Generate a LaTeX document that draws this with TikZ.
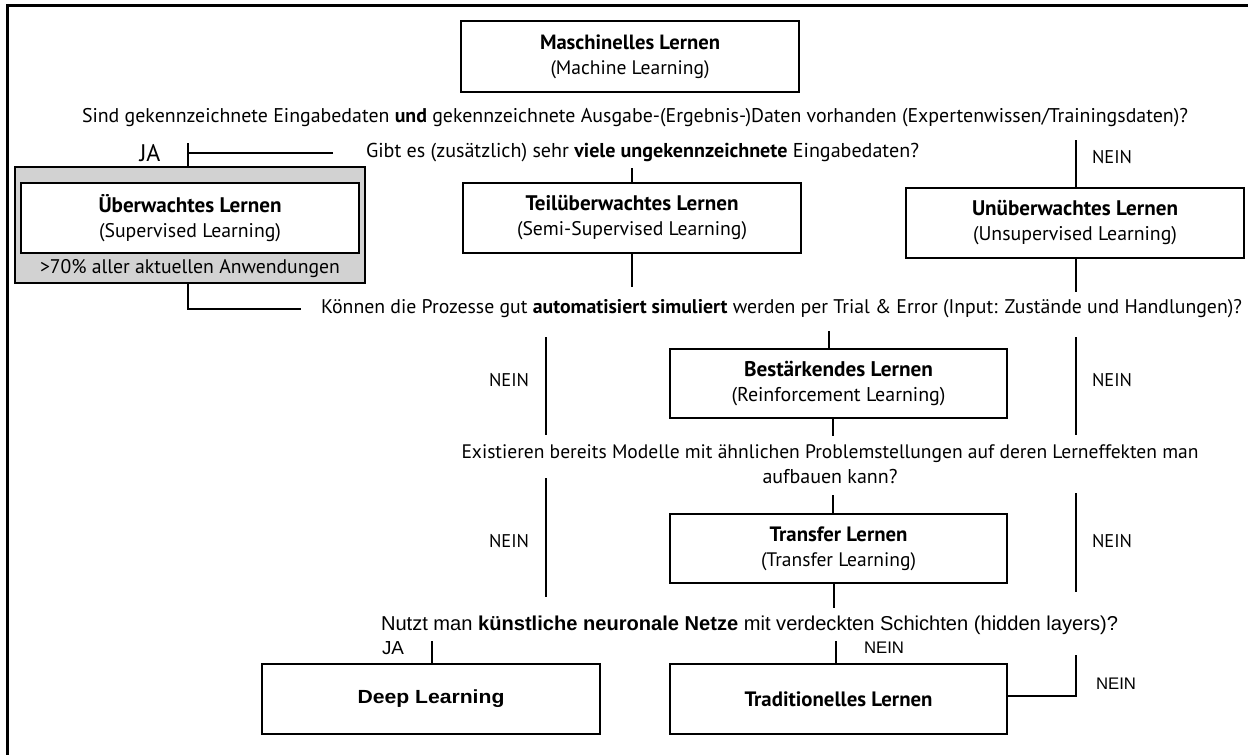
\documentclass[tikz,border=0pt]{standalone}
\usepackage{fontspec}
\usepackage{graphicx}
\setmainfont{PT Sans}
\newfontfamily\helv{Liberation Sans}
\newlength\fitlen
\newcommand\fitto[2]{{\fontsize{10}{12}\selectfont\settowidth\fitlen{#2}\pgfmathsetmacro\fitfs{10*#1/\fitlen}\fontsize{\fitfs}{\fitfs}\selectfont #2}}
\newcommand\fitx[2]{\resizebox{#1pt}{\height}{#2}}
\begin{document}
\begin{tikzpicture}[x=1pt,y=-1pt,
  every node/.style={inner sep=0pt, font=\fontsize{19}{25}\selectfont},
  lbox/.style={draw, line width=2.6pt, fill=white, align=center, minimum width=338pt, minimum height=70pt},
  ln/.style={line width=2.6pt}
]
\useasboundingbox (0,0) rectangle (1248,755);
% frame
\draw[line width=3pt] (7,755) -- (7,5) -- (1248,5);

% boxes
\node[lbox, minimum height=71pt] (ml) at (630,56.5) {\fitto{180}{\textbf{Maschinelles Lernen}}\\\fitto{159}{(Machine Learning)}};
\node[draw, line width=2.6pt, fill=gray!35, minimum width=350pt, minimum height=116pt] (grey) at (190,225) {};
\node[lbox] (sup) at (190,218) {\fitto{183}{\textbf{Überwachtes Lernen}}\\\fitto{182}{(Supervised Learning)}};
\node (pct) at (190,268.5) {\fitto{300}{>70\% aller aktuellen Anwendungen}};
\node[lbox] (semi) at (632,218) {\fitto{213}{\textbf{Teilüberwachtes Lernen}}\\\fitto{230}{(Semi-Supervised Learning)}};
\node[lbox] (unsup) at (1075,223) {\fitto{206}{\textbf{Unüberwachtes Lernen}}\\\fitto{204}{(Unsupervised Learning)}};
\node[lbox, minimum width=337pt, minimum height=69pt] (rl) at (838.5,383.5) {\fitto{189}{\textbf{Bestärkendes Lernen}}\\\fitto{214}{(Reinforcement Learning)}};
\node[lbox, minimum width=337pt, minimum height=69pt] (tl) at (838.5,548.5) {\fitto{138}{\textbf{Transfer Lernen}}\\\fitto{155}{(Transfer Learning)}};
\node[lbox] (dl) at (431,699) {\fitx{147}{\helv\bfseries\fontsize{19}{25}\selectfont Deep Learning}};
\node[lbox, minimum width=337pt] (trad) at (838.5,699) {\fitto{188}{\textbf{Traditionelles Lernen}}};

% questions
\node (q1) at (635,118) {\fitto{1106}{Sind gekennzeichnete Eingabedaten \textbf{und} gekennzeichnete Ausgabe-(Ergebnis-)Daten vorhanden (Expertenwissen/Trainingsdaten)?}};
\node (q2) at (642.5,153) {\fitto{553}{Gibt es (zusätzlich) sehr \textbf{viele ungekennzeichnete} Eingabedaten?}};
\node (q3) at (781.5,309) {\fitto{921}{Können die Prozesse gut \textbf{automatisiert simuliert} werden per Trial \& Error (Input: Zustände und Handlungen)?}};
\node[align=center] (q4) at (830,464) {\fitto{737}{Existieren bereits Modelle mit ähnlichen Problemstellungen auf deren Lerneffekten man}\\\fitto{135}{aufbauen kann?}};
\node[font=\helv] (q5) at (749.5,625) {\fitto{737}{Nutzt man \textbf{künstliche neuronale Netze} mit verdeckten Schichten (hidden layers)?}};

% labels
\node (ja1) at (150,153) {\fitto{21}{JA}};
\node (n1) at (1112,157) {\fitto{40}{NEIN}};
\node (n2) at (509,380) {\fitto{40}{NEIN}};
\node (n3) at (1112,380) {\fitto{40}{NEIN}};
\node (n4) at (509,541) {\fitto{40}{NEIN}};
\node (n5) at (1112,541) {\fitto{40}{NEIN}};
\node[font=\helv] (ja2) at (393,648) {\fitto{22}{JA}};
\node[font=\helv] (n6) at (884,648) {\fitto{40}{NEIN}};
\node[font=\helv] (n7) at (1116,684) {\fitto{40}{NEIN}};

% connector free ends
\coordinate (jaR) at (333,153);
\coordinate (jaTop) at (188,143);
\coordinate (semiTop) at (632,168);
\coordinate (unTop) at (1076,140);
\coordinate (supEnd) at (301,309);
\coordinate (semiBot) at (632,287);
\coordinate (unBot) at (1076,292);
\coordinate (lA1) at (546,337); \coordinate (lA2) at (546,435);
\coordinate (lB1) at (546,478); \coordinate (lB2) at (546,597);
\coordinate (rA1) at (1076,337); \coordinate (rA2) at (1076,435);
\coordinate (rB1) at (1076,493); \coordinate (rB2) at (1076,592);
\coordinate (rlTop) at (829,331);
\coordinate (rlBot) at (833,436);
\coordinate (tlTop) at (833,495);
\coordinate (tlBot) at (834,608);
\coordinate (dlTop) at (432,641);
\coordinate (trTop) at (836,641);
\coordinate (rC1) at (1076,655);

% connectors
\draw[ln] (jaR) -- (jaR -| jaTop);
\draw[ln] (jaTop) -- (jaTop |- grey.north);
\draw[ln] (semiTop) -- (semi.north);
\draw[ln] (unTop) -- (unTop |- unsup.north);
\draw[ln] (grey.south -| jaTop) |- (supEnd);
\draw[ln] (semi.south) -- (semiBot);
\draw[ln] (unsup.south -| unBot) -- (unBot);
\draw[ln] (lA1) -- (lA2);
\draw[ln] (lB1) -- (lB2);
\draw[ln] (rA1) -- (rA2);
\draw[ln] (rB1) -- (rB2);
\draw[ln] (rlTop) -- (rlTop |- rl.north);
\draw[ln] (rl.south -| rlBot) -- (rlBot);
\draw[ln] (tlTop) -- (tlTop |- tl.north);
\draw[ln] (tl.south -| tlBot) -- (tlBot);
\draw[ln] (dlTop) -- (dlTop |- dl.north);
\draw[ln] (trTop) -- (trTop |- trad.north);
\draw[ln] (rC1) |- ([yshift=3pt]trad.east);
\end{tikzpicture}
\end{document}
